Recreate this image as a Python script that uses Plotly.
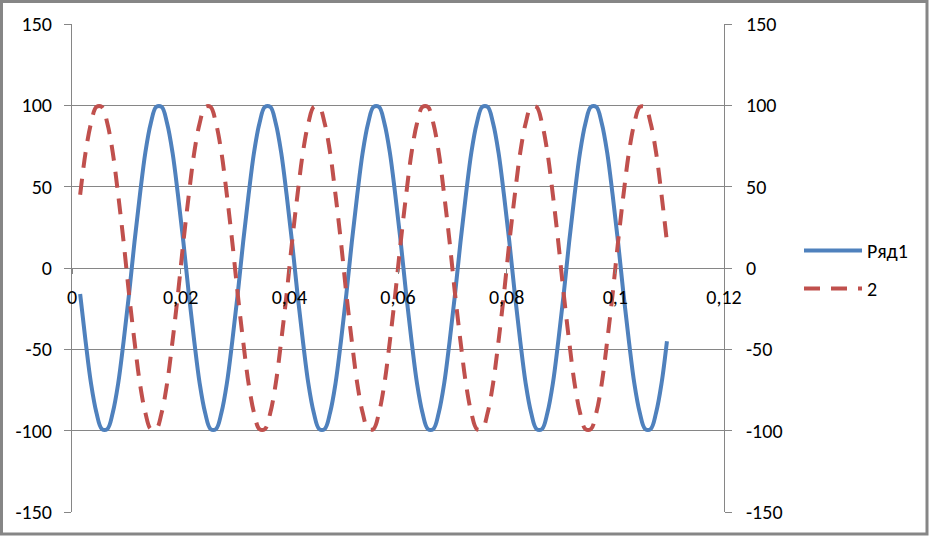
import plotly.graph_objects as go

# ---- data ----
x_vals = [
    0.0015, 0.0025, 0.0035, 0.0045, 0.0055, 0.0065, 0.0075, 0.0085, 0.0095, 0.0105,
    0.0115, 0.0125, 0.0135, 0.0145, 0.0155, 0.0165, 0.0175, 0.0185, 0.0195, 0.0205,
    0.0215, 0.0225, 0.0235, 0.0245, 0.0255, 0.0265, 0.0275, 0.0285, 0.0295, 0.0305,
    0.0315, 0.0325, 0.0335, 0.0345, 0.0355, 0.0365, 0.0375, 0.0385, 0.0395, 0.0405,
    0.0415, 0.0425, 0.0435, 0.0445, 0.0455, 0.0465, 0.0475, 0.0485, 0.0495, 0.0505,
    0.0515, 0.0525, 0.0535, 0.0545, 0.0555, 0.0565, 0.0575, 0.0585, 0.0595, 0.0605,
    0.0615, 0.0625, 0.0635, 0.0645, 0.0655, 0.0665, 0.0675, 0.0685, 0.0695, 0.0705,
    0.0715, 0.0725, 0.0735, 0.0745, 0.0755, 0.0765, 0.0775, 0.0785, 0.0795, 0.0805,
    0.0815, 0.0825, 0.0835, 0.0845, 0.0855, 0.0865, 0.0875, 0.0885, 0.0895, 0.0905,
    0.0915, 0.0925, 0.0935, 0.0945, 0.0955, 0.0965, 0.0975, 0.0985, 0.0995, 0.1005,
    0.1015, 0.1025, 0.1035, 0.1045, 0.1055, 0.1065, 0.1075, 0.1085, 0.1095,
]

series1_name = "Ряд1"
series1 = [
    -16, -45, -71, -89, -99, -99, -89, -71, -45, -16, 16, 45, 71, 89, 99, 99, 89, 71, 45, 16,
    -16, -45, -71, -89, -99, -99, -89, -71, -45, -16, 16, 45, 71, 89, 99, 99, 89, 71, 45, 16,
    -16, -45, -71, -89, -99, -99, -89, -71, -45, -16, 16, 45, 71, 89, 99, 99, 89, 71, 45, 16,
    -16, -45, -71, -89, -99, -99, -89, -71, -45, -16, 16, 45, 71, 89, 99, 99, 89, 71, 45, 16,
    -16, -45, -71, -89, -99, -99, -89, -71, -45, -16, 16, 45, 71, 89, 99, 99, 89, 71, 45, 16,
    -16, -45, -71, -89, -99, -99, -89, -71, -45,
]

series2_name = "2"
series2 = [
    45, 71, 89, 99, 99, 89, 71, 45, 16, -16, -45, -71, -89, -99, -99, -89, -71, -45, -16, 16,
    45, 71, 89, 99, 99, 89, 71, 45, 16, -16, -45, -71, -89, -99, -99, -89, -71, -45, -16, 16,
    45, 71, 89, 99, 99, 89, 71, 45, 16, -16, -45, -71, -89, -99, -99, -89, -71, -45, -16, 16,
    45, 71, 89, 99, 99, 89, 71, 45, 16, -16, -45, -71, -89, -99, -99, -89, -71, -45, -16, 16,
    45, 71, 89, 99, 99, 89, 71, 45, 16, -16, -45, -71, -89, -99, -99, -89, -71, -45, -16, 16,
    45, 71, 89, 99, 99, 89, 71, 45, 16,
]

x_tickvals = [0, 0.02, 0.04, 0.06, 0.08, 0.1, 0.12]
x_ticktext = ["0", "0,02", "0,04", "0,06", "0,08", "0,1", "0,12"]
y_tickvals = [-150, -100, -50, 0, 50, 100, 150]
y_ticktext = ["-150", "-100", "-50", "0", "50", "100", "150"]

# ---- styling ----
W, H = 930, 537
ML, MR, MT, MB = 72, 206, 24, 25
GRAY = "#868686"
BLUE = "#4F81BD"
RED = "#C0504D"
FONT = dict(family="Carlito, Calibri, Lato, sans-serif", size=20, color="#000000")

fig = go.Figure()
fig.add_trace(go.Scatter(
    x=x_vals, y=series1, name=series1_name, mode="lines",
    line=dict(color=BLUE, width=4, shape="spline", smoothing=1),
    legendgroup="a",
))
fig.add_trace(go.Scatter(
    x=x_vals, y=series2, name=series2_name, mode="lines",
    line=dict(color=RED, width=4, shape="spline", smoothing=1, dash="16px,11px"),
    legendgroup="b",
))
# invisible trace so the right axis is drawn
fig.add_trace(go.Scatter(x=[None], y=[None], yaxis="y2", showlegend=False, hoverinfo="skip"))

pw = W - ML - MR
ph = H - MT - MB

def px_x(p):
    return (p - ML) / pw

def px_y(p):
    return 1 - (p - MT) / ph

fig.update_layout(
    width=W, height=H,
    margin=dict(l=ML, r=MR, t=MT, b=MB, pad=0),
    paper_bgcolor="white", plot_bgcolor="white",
    font=FONT,
    showlegend=True,
    legend=dict(
        x=px_x(799), y=px_y(231), xanchor="left", yanchor="top",
        font=FONT, bgcolor="rgba(0,0,0,0)",
        traceorder="grouped", tracegroupgap=9, itemwidth=58,
    ),
    xaxis=dict(
        range=[0, 0.12], tickvals=x_tickvals, ticktext=x_ticktext,
        showgrid=False, zeroline=False, showline=False,
        anchor="free", position=0.5,
        ticks="outside", ticklen=5, tickcolor=GRAY, tickwidth=1,
        tickfont=FONT, ticklabelstandoff=6,
    ),
    yaxis=dict(
        range=[-150, 150], tickvals=y_tickvals, ticktext=y_ticktext,
        showgrid=True, gridcolor=GRAY, gridwidth=1,
        zeroline=True, zerolinecolor=GRAY, zerolinewidth=1,
        showline=True, linecolor=GRAY, linewidth=1,
        ticks="outside", ticklen=7, tickcolor=GRAY, tickwidth=1,
        tickfont=FONT, ticklabelstandoff=8,
    ),
    yaxis2=dict(
        range=[-150, 150], tickvals=y_tickvals, ticktext=y_ticktext,
        overlaying="y", side="right", anchor="x",
        showgrid=False, zeroline=False,
        showline=True, linecolor=GRAY, linewidth=1,
        ticks="outside", ticklen=7, tickcolor=GRAY, tickwidth=1,
        tickfont=FONT, ticklabelstandoff=10,
    ),
    shapes=[dict(
        type="rect", xref="paper", yref="paper",
        x0=px_x(1.5), x1=px_x(927), y0=px_y(1.5), y1=px_y(534),
        line=dict(color=GRAY, width=3), layer="below",
    )],
)

fig.write_html(
    "out.html",
    config={"displayModeBar": False},
    post_script="document.body.style.margin='0';document.body.style.overflow='hidden';",
)
